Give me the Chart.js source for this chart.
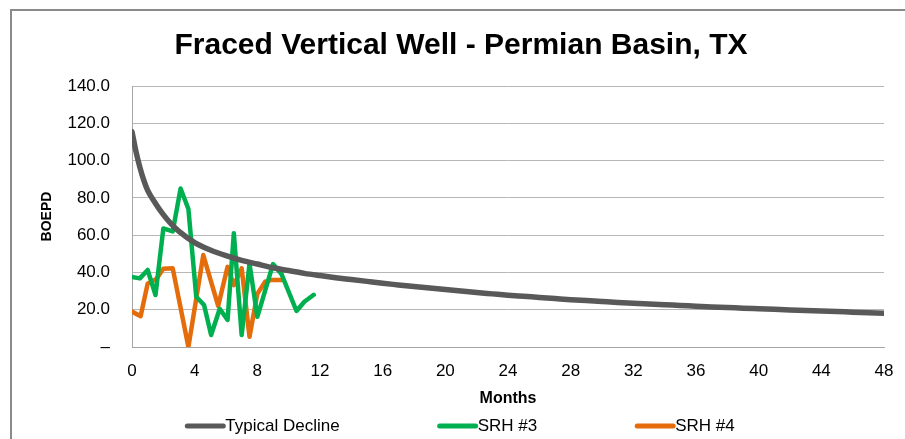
<!DOCTYPE html>
<html><head><meta charset="utf-8">
<script src="https://cdn.jsdelivr.net/npm/chart.js@4/dist/chart.umd.min.js"></script>
<style>
html,body{margin:0;padding:0;background:#fff;}
#wrap{position:relative;width:905px;height:439px;overflow:hidden;background:#fff;}
#frame{position:absolute;left:10px;top:9px;width:1000px;height:1000px;border-left:2px solid #8a8a8a;border-top:2px solid #8a8a8a;}
canvas{position:absolute;left:0;top:0;}
</style></head><body>
<div id="wrap"><div id="frame"></div><canvas id="c" width="905" height="439"></canvas></div>
<script>
const TITLE = 'Fraced Vertical Well - Permian Basin, TX';
const X_TITLE = 'Months';
const Y_TITLE = 'BOEPD';
const SERIES_NAMES = ['Typical Decline', 'SRH #3', 'SRH #4'];

const declineMonths = [0,0.25,0.5,0.75,1,1.5,2,2.5,3,4,5,6,7,8,9,10,11,12,13,14,15,16,17,18,19,20,21,22,23,24,25,26,27,28,29,30,31,32,33,34,35,36,37,38,39,40,41,42,43,44,45,46,47,48];
const declineValues = [115.5,105,96.5,89.5,84,77,71,66,62,56,52,49,46.5,44.5,42.5,41,39.5,38.3,37.2,36.2,35.2,34.2,33.3,32.4,31.6,30.8,30.0,29.2,28.5,27.8,27.2,26.6,26.0,25.4,24.9,24.4,23.9,23.5,23.1,22.7,22.3,21.9,21.5,21.2,20.8,20.5,20.2,19.9,19.6,19.3,19.0,18.7,18.4,18.1];

const srh3Months = [0,0.5,1.0,1.5,2.0,2.6,3.1,3.6,4.1,4.6,5.05,5.6,6.1,6.5,7.0,7.5,8.0,9.0,9.55,10.5,11.0,11.6];
const srh3Values = [37.5,36.8,41.3,27.9,63.6,62,85,74,27,22.5,6.4,20.5,14.5,61,6.4,44.8,16.2,44.5,39,19.3,24.3,28];

const srh4Months = [0,0.55,1.0,1.55,2.0,2.6,3.6,4.55,5.5,6.1,6.5,7.0,7.5,8.0,8.5,8.9,9.6];
const srh4Values = [19,16.5,34,36.5,42,42.2,0,49.3,22,43,33.2,42.2,5.5,28.5,35,36,36];

const yTicksMin = 0, yTicksMax = 140, yStep = 20;
const xTicksMin = 0, xTicksMax = 48, xStep = 4;

const COLORS = ['#595959', '#00B050', '#E46C0A'];
const FONT = "'Liberation Sans', Arial, sans-serif";

function pairs(xs, ys){ return xs.map((x,i)=>({x:x, y:ys[i]})); }

const legendPlugin = {
  id: 'bottomLegend',
  afterDraw(chart){
    const ctx = chart.ctx;
    ctx.save();
    ctx.font = '17px ' + FONT;
    const items = chart.data.datasets.map(ds => ({label: ds.label, color: ds.borderColor, w: 42 + ctx.measureText(ds.label).width}));
    const gap = 96;
    const total = items.reduce((s,i)=>s+i.w,0) + gap*(items.length-1);
    let x = 460 - total/2;
    const y = 426;
    items.forEach(it => {
      ctx.strokeStyle = it.color; ctx.lineWidth = 5; ctx.lineCap = 'round';
      ctx.beginPath(); ctx.moveTo(x+3, y); ctx.lineTo(x+39, y); ctx.stroke();
      ctx.fillStyle = '#000'; ctx.textBaseline = 'middle'; ctx.textAlign = 'left';
      ctx.fillText(it.label, x+41, y);
      x += it.w + gap;
    });
    ctx.restore();
  }
};

new Chart(document.getElementById('c'), {
  type: 'line',
  data: {
    datasets: [
      {label: SERIES_NAMES[0], data: pairs(declineMonths, declineValues), borderColor: COLORS[0], backgroundColor: COLORS[0], borderWidth: 5.5, pointRadius: 0, cubicInterpolationMode: 'monotone', borderJoinStyle: 'round', borderCapStyle: 'round', fill: false},
      {label: SERIES_NAMES[1], data: pairs(srh3Months, srh3Values), borderColor: COLORS[1], backgroundColor: COLORS[1], borderWidth: 4.5, pointRadius: 0, tension: 0, borderJoinStyle: 'round', borderCapStyle: 'round', fill: false},
      {label: SERIES_NAMES[2], data: pairs(srh4Months, srh4Values), borderColor: COLORS[2], backgroundColor: COLORS[2], borderWidth: 4.5, pointRadius: 0, tension: 0, borderJoinStyle: 'round', borderCapStyle: 'round', fill: false}
    ]
  },
  options: {
    responsive: false, animation: false, devicePixelRatio: 1,
    layout: {padding: {left: 38, right: 21, top: 0, bottom: 28}},
    plugins: {
      legend: {display: false},
      tooltip: {enabled: false},
      title: {display: true, text: TITLE, color: '#000', font: {family: FONT, size: 30, weight: 'bold'}, padding: {top: 28, bottom: 22}}
    },
    scales: {
      x: {
        type: 'linear', min: xTicksMin, max: xTicksMax,
        ticks: {stepSize: xStep, color: '#000', font: {family: FONT, size: 17}, padding: 14, maxRotation: 0, autoSkip: false},
        grid: {display: false, drawTicks: false},
        border: {display: true, color: '#a6a6a6', width: 1},
        title: {display: true, text: X_TITLE, color: '#000', font: {family: FONT, size: 16, weight: 'bold'}, padding: {top: 4, bottom: 3}},
        afterFit(s){ s.height = 64; s.paddingRight = 0; s.paddingLeft = 0; }
      },
      y: {
        min: yTicksMin, max: yTicksMax,
        ticks: {stepSize: yStep, color: '#000', font: {family: FONT, size: 17}, padding: 22, callback: v => v === 0 ? '–' : v.toFixed(1)},
        grid: {color: '#b7b7b7', drawTicks: false},
        border: {display: true, color: '#a6a6a6', width: 1},
        title: {display: true, text: Y_TITLE, color: '#000', font: {family: FONT, size: 14, weight: 'bold'}, padding: {top: 1, bottom: 0}},
        afterFit(s){ s.width = 94; }
      }
    }
  },
  plugins: [legendPlugin]
});
</script>
</body></html>
